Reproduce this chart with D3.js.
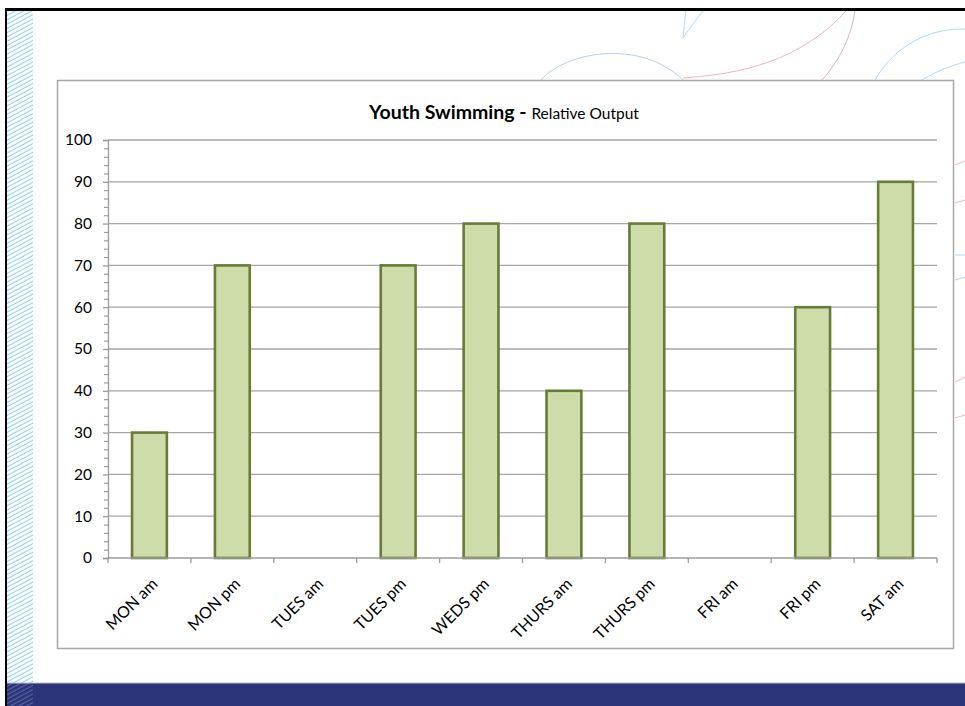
<!DOCTYPE html>
<html>
<head>
<meta charset="utf-8">
<script src="https://cdn.jsdelivr.net/npm/d3@7"></script>
<style>
  html, body { margin: 0; padding: 0; background: #fff; }
  svg { display: block; }
</style>
</head>
<body>
<svg id="chart" width="965" height="706"></svg>
<script>
// Session slots and the relative output recorded for each
const sessions = ["MON am", "MON pm", "TUES am", "TUES pm", "WEDS pm",
                  "THURS am", "THURS pm", "FRI am", "FRI pm", "SAT am"];
const output = [30, 70, 0, 70, 80, 40, 80, 0, 60, 90];
const yTicks = [0, 10, 20, 30, 40, 50, 60, 70, 80, 90, 100];
const titleMain = "Youth Swimming - ";
const titleSub = "Relative Output";

const FONT = "Lato, 'Open Sans', sans-serif";
const svg = d3.select("#chart");
const W = 965, H = 706;

// ---- slide background -------------------------------------------------
const defs = svg.append("defs");
const hatch = defs.append("pattern")
  .attr("id", "hatch").attr("patternUnits", "userSpaceOnUse")
  .attr("width", 6).attr("height", 4.3)
  .attr("patternTransform", "skewY(-28)");
hatch.append("line").attr("x1", 0).attr("y1", 2).attr("x2", 6).attr("y2", 2)
  .attr("stroke", "#8dd0ee").attr("stroke-width", 1.2);

svg.append("rect").attr("width", W).attr("height", H).attr("fill", "#fff");
svg.append("rect").attr("x", 7).attr("y", 10).attr("width", 26).attr("height", H - 10)
  .attr("fill", "url(#hatch)");

// decorative swirl strokes behind the chart panel
const deco = svg.append("g").attr("fill", "none").attr("stroke-width", 0.9);
const swirl = [
  ["M683,38 C684,28 685,18 686,10", "#a6d6f0"],
  ["M683,38 C690,28 697,18 704,10", "#a6d6f0"],
  ["M541,80 C565,52 640,38 683,80", "#b0c8e6"],
  ["M683,78 C740,74 800,62 847,10", "#e6b0ba"],
  ["M822,80 C840,60 852,35 855,10", "#d4aab0"],
  ["M875,80 C895,45 930,28 965,29", "#a6d6f0"],
  ["M922,80 C935,72 950,66 965,62", "#a6d6f0"],
  ["M955,165 L965,161", "#ebb0bb"],
  ["M955,203 L965,200", "#ebb0bb"],
  ["M955,255 L965,255", "#a6cdee"],
  ["M955,280 L965,277", "#a6cdee"],
  ["M955,382 L965,377", "#ebb0bb"],
  ["M955,418 L965,415", "#ebb0bb"]
];
swirl.forEach(([d, c]) => deco.append("path").attr("d", d).attr("stroke", c));

// frame lines and footer band
svg.append("rect").attr("x", 5).attr("y", 8).attr("width", W - 5).attr("height", 3).attr("fill", "#000");
svg.append("rect").attr("x", 5).attr("y", 8).attr("width", 2).attr("height", H - 8).attr("fill", "#000");
svg.append("rect").attr("x", 7).attr("y", 683).attr("width", W - 7).attr("height", H - 683).attr("fill", "#2e3479");
svg.append("rect").attr("x", 7).attr("y", 683).attr("width", 26).attr("height", H - 683).attr("fill", "url(#hatch)").attr("opacity", 0.35);
svg.append("line").attr("x1", 7).attr("x2", W).attr("y1", 683).attr("y2", 683).attr("stroke", "#b8bcd6").attr("stroke-width", 1);

// ---- chart panel ---------------------------------------------------------
svg.append("rect").attr("x", 57.5).attr("y", 80.5).attr("width", 896).attr("height", 568)
  .attr("fill", "#fff").attr("stroke", "#a8a8a8").attr("stroke-width", 1.5);

const title = svg.append("text").attr("x", 504).attr("y", 119)
  .attr("text-anchor", "middle").attr("font-family", FONT).attr("fill", "#000");
title.append("tspan").attr("font-size", 19.5).attr("font-weight", "bold").text(titleMain);
title.append("tspan").attr("font-size", 15.5).text(titleSub);

const plotL = 108, plotR = 937, plotT = 140, plotB = 558;
const x = d3.scaleBand().domain(sessions).range([plotL, plotR]).padding(0);
const y = d3.scaleLinear().domain([0, 100]).range([plotB, plotT]);

// horizontal gridlines
svg.append("g").selectAll("line").data(yTicks.filter(v => v > 0)).join("line")
  .attr("x1", plotL).attr("x2", plotR)
  .attr("y1", d => y(d)).attr("y2", d => y(d))
  .attr("stroke", "#a6a6a6").attr("stroke-width", 1.3);

// y axis with major and minor ticks
const yAxis = svg.append("g").attr("transform", `translate(${plotL},0)`)
  .call(d3.axisLeft(y).tickValues(yTicks).tickSize(5).tickPadding(11));
yAxis.select(".domain").attr("stroke", "#9c9c9c").attr("stroke-width", 1.3);
yAxis.selectAll(".tick line").attr("stroke", "#9c9c9c").attr("stroke-width", 1.3);
yAxis.selectAll("text").attr("font-family", FONT)
  .attr("font-size", 15.5).attr("fill", "#000");
const minor = d3.range(0, 100, 2).filter(v => v % 10 !== 0);
svg.append("g").attr("transform", `translate(${plotL},0)`)
  .call(d3.axisLeft(y).tickValues(minor).tickSize(4).tickFormat(""))
  .call(g => g.select(".domain").remove())
  .call(g => g.selectAll(".tick line").attr("stroke", "#9c9c9c").attr("stroke-width", 1.2));

// bars
const barW = x.bandwidth() * 0.42;
svg.append("g").selectAll("rect").data(sessions.map((s, i) => ({s, v: output[i]})).filter(d => d.v > 0))
  .join("rect")
  .attr("x", d => x(d.s) + (x.bandwidth() - barW) / 2)
  .attr("y", d => y(d.v))
  .attr("width", barW)
  .attr("height", d => y(0) - y(d.v))
  .attr("fill", "#cddca9")
  .attr("stroke", "#687b38")
  .attr("stroke-width", 2.6);

// x axis: boundary ticks between sessions
const bounds = sessions.map(s => x(s)).concat([plotR]);
const xAxis = svg.append("g");
xAxis.append("line").attr("x1", plotL).attr("x2", plotR).attr("y1", plotB).attr("y2", plotB)
  .attr("stroke", "#9c9c9c").attr("stroke-width", 1.3);
xAxis.selectAll("line.tk").data(bounds).join("line").attr("class", "tk")
  .attr("x1", d => d).attr("x2", d => d).attr("y1", plotB).attr("y2", plotB + 5)
  .attr("stroke", "#9c9c9c").attr("stroke-width", 1.3);
xAxis.selectAll("text").data(sessions).join("text")
  .attr("transform", d => `translate(${x(d) + x.bandwidth() / 2 + 9},${plotB + 27}) rotate(-45)`)
  .attr("text-anchor", "end")
  .attr("font-family", FONT)
  .attr("font-size", 16)
  .attr("fill", "#000")
  .text(d => d);
</script>
</body>
</html>
